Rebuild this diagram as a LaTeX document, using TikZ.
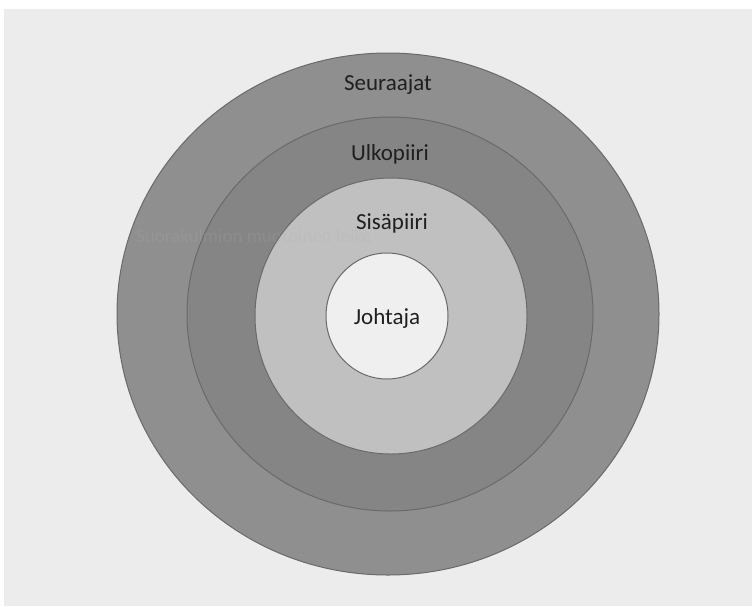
\documentclass[tikz,border=0pt]{standalone}
\usepackage{fontspec}
\setmainfont{Carlito}
\definecolor{bgray}{HTML}{ECECEC}
\definecolor{ringA}{HTML}{8F8F8F}
\definecolor{ringB}{HTML}{858585}
\definecolor{ringC}{HTML}{C0C0C0}
\definecolor{ringD}{HTML}{EFEFEF}
\definecolor{edge}{HTML}{6A6A6A}
\definecolor{ghostc}{HTML}{B0B0B0}
\begin{document}
\begin{tikzpicture}[x=1pt,y=-1pt,
  ring/.style={draw=edge, line width=1pt},
  lbl/.style={font=\fontsize{23}{26}\selectfont, text=black!88, inner sep=0pt}]
\useasboundingbox (0,0) rectangle (752,606);
\fill[white] (0,0) rectangle (752,606);
\fill[bgray] (4,9) rectangle (752,606);
\fill[ringA, ring] (388,314) ellipse [x radius=271, y radius=261];
\fill[ringB, ring] (390,314) ellipse [x radius=203, y radius=197];
\fill[ringC, ring] (391,316) ellipse [x radius=136, y radius=138];
\fill[ringD, ring] (387,316) ellipse [x radius=61, y radius=63];
\node[lbl] (seur) at (388,85) {Seuraajat};
\node[lbl] (ulko) at (390,154) {Ulkopiiri};
\node[lbl] (sisa) at (392,223) {Sisäpiiri};
\node[lbl] (joht) at (387,318) {Johtaja};
\node[font=\fontsize{19}{22}\selectfont, text=ghostc, text opacity=0.2, anchor=west, inner sep=0pt] (ghost) at (136,236) {Suorakulmion muotoinen leike};
\end{tikzpicture}
\end{document}
